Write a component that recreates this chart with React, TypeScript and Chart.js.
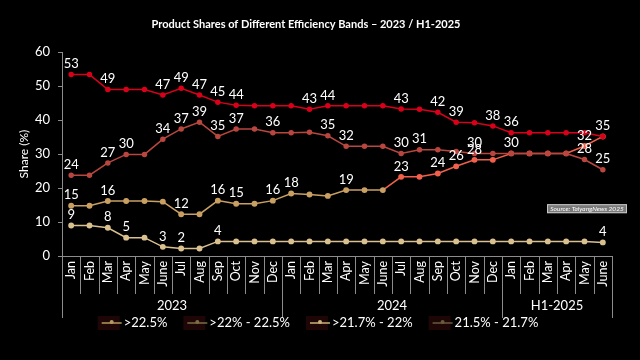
import React, { useEffect, useRef } from "react";
import { Chart, registerables } from "chart.js";

Chart.register(...registerables);

const months = ["Jan","Feb","Mar","Apr","May","June","Jul","Aug","Sep","Oct","Nov","Dec","Jan","Feb","Mar","Apr","May","June","Jul","Aug","Sep","Oct","Nov","Dec","Jan","Feb","Mar","Apr","May","June"];
const groups = [
  { label: "2023", from: 0, to: 11 },
  { label: "2024", from: 12, to: 23 },
  { label: "H1-2025", from: 24, to: 29 },
];
const seriesNames = [">22.5%", ">22% - 22.5%", ">21.7% - 22%", "21.5% - 21.7%"];

const redValues = [53.4,53.4,49,49,49,47.4,49.4,47.4,45.3,44.4,44.2,44.2,44.2,43.2,44.2,44.2,44.2,44.2,43.3,43.2,42.3,39.4,39.2,38.3,36.3,36.3,36.3,36.3,36.3,35.2];
const brownValues = [23.8,23.8,27.4,29.9,29.9,34.4,37.4,39.4,35.2,37.4,37.4,36.3,36.3,36.4,35.4,32.3,32.3,32.3,30.2,31.3,31.3,30.8,30.2,30.2,30.2,30.2,30.2,30.2,28.4,25.4];
const midValues = [14.8,14.8,16.2,16.2,16.2,16.0,12.3,12.3,16.3,15.4,15.4,16.3,18.4,18.1,17.7,19.4,19.4,19.4,23.3,23.3,24.3,26.4,28.3,28.3,30.2,30.2,30.2,30.2,32.4,35.2];
const lowValues = [9.0,9.0,8.3,5.4,5.4,2.7,2.2,2.2,4.3,4.3,4.3,4.3,4.3,4.3,4.3,4.3,4.3,4.3,4.3,4.3,4.3,4.3,4.3,4.3,4.3,4.3,4.3,4.3,4.3,4.0];

const redLabels = [0,2,5,6,7,8,9,13,14,18,20,21,23,24,29];
const brownLabels = [0,2,3,5,6,7,8,9,11,14,15,18,19,22,24,28,29];
const midLabels = [0,2,6,8,9,11,12,15,18,20,21,22,28];
const lowLabels = [0,2,3,5,6,8,29];

const yTicks = [0, 10, 20, 30, 40, 50, 60];
const salmonFrom = 18;

const FONT = "Lato, 'Open Sans', sans-serif";
const RED = "#d9001b";
const BROWN = "#b9463f";
const TAN = "#c9a062";
const SALMON = "#f2604b";
const PALE = "#d9c08e";
const legendColors = ["#b39a5e", "#7d6c47", "#cbb27a", "#6a5a3c"];
const GRAY = "#8c8c8c";

export default function App() {
  const ref = useRef<HTMLCanvasElement | null>(null);

  useEffect(() => {
    document.body.style.margin = "0";
    document.body.style.background = "#000";
    const canvas = ref.current;
    if (!canvas) return;

    const labelSets = [redLabels, brownLabels, midLabels, lowLabels];

    const extras = {
      id: "extras",
      beforeDraw(chart: any) {
        const ctx = chart.ctx;
        ctx.save();
        ctx.fillStyle = "#000";
        ctx.fillRect(0, 0, chart.width, chart.height);
        ctx.restore();
      },
      afterDatasetsDraw(chart: any) {
        const ctx = chart.ctx;
        ctx.save();
        ctx.font = `13px ${FONT}`;
        ctx.fillStyle = "#fff";
        ctx.textAlign = "center";
        ctx.textBaseline = "bottom";
        chart.data.datasets.forEach((ds: any, di: number) => {
          const meta = chart.getDatasetMeta(di);
          labelSets[di].forEach((i) => {
            const pt = meta.data[i];
            if (!pt) return;
            ctx.fillText(String(Math.round(ds.data[i])), pt.x, pt.y - 4);
          });
        });
        ctx.restore();
      },
      afterDraw(chart: any) {
        const ctx = chart.ctx;
        const xs = chart.scales.x;
        const area = chart.chartArea;
        const w = xs.getPixelForValue(1) - xs.getPixelForValue(0);
        ctx.save();
        ctx.strokeStyle = GRAY;
        ctx.lineWidth = 1;
        const bounds = new Set<number>();
        groups.forEach((g) => { bounds.add(g.from); bounds.add(g.to + 1); });
        for (let i = 0; i <= months.length; i++) {
          const x = Math.round(xs.getPixelForValue(0) - w / 2 + i * w) + 0.5;
          const len = bounds.has(i) ? 62 : 38;
          ctx.beginPath();
          ctx.moveTo(x, area.bottom);
          ctx.lineTo(x, area.bottom + len);
          ctx.stroke();
        }
        ctx.font = `13px ${FONT}`;
        ctx.fillStyle = "#fff";
        ctx.textAlign = "center";
        ctx.textBaseline = "middle";
        groups.forEach((g) => {
          const cx = (xs.getPixelForValue(g.from) + xs.getPixelForValue(g.to)) / 2;
          ctx.fillText(g.label, cx, area.bottom + 50);
        });

        // legend
        ctx.font = `13px ${FONT}`;
        const markerW = 20;
        const gapT = 2;
        const gapItem = 20;
        const widths = seriesNames.map((n) => markerW + gapT + ctx.measureText(n).width);
        const total = widths.reduce((a, b) => a + b, 0) + gapItem * (seriesNames.length - 1);
        let lx = chart.width / 2 - total / 2;
        const ly = area.bottom + 67;
        seriesNames.forEach((n, i) => {
          ctx.fillStyle = "#1e0606";
          ctx.fillRect(lx - 4, ly - 7, markerW + 2, 14);
          ctx.strokeStyle = legendColors[i];
          ctx.lineWidth = 1.5;
          ctx.beginPath();
          ctx.moveTo(lx, ly);
          ctx.lineTo(lx + markerW, ly);
          ctx.stroke();
          ctx.fillStyle = legendColors[i];
          ctx.beginPath();
          ctx.arc(lx + markerW / 2, ly - 1, 2, 0, Math.PI * 2);
          ctx.fill();
          ctx.fillStyle = "#fff";
          ctx.textAlign = "left";
          ctx.fillText(n, lx + markerW + gapT, ly);
          lx += widths[i] + gapItem;
        });

        // source box
        const bx = area.right - 65;
        const by = area.top + 152;
        ctx.fillStyle = "#7a7a7a";
        ctx.fillRect(bx, by, 80, 9);
        ctx.strokeStyle = "#c8c8c8";
        ctx.lineWidth = 1;
        ctx.strokeRect(bx + 0.5, by + 0.5, 79, 8);
        ctx.fillStyle = "#fff";
        ctx.font = `italic 6.5px ${FONT}`;
        ctx.textAlign = "center";
        ctx.fillText("Source: TaiyangNews 2025", bx + 40, by + 5);
        ctx.restore();
      },
    };

    const chart = new Chart(canvas, {
      type: "line",
      data: {
        labels: months,
        datasets: [
          {
            label: seriesNames[3],
            data: redValues,
            borderColor: RED,
            backgroundColor: RED,
            pointBackgroundColor: RED,
            pointBorderColor: RED,
            borderWidth: 1.5,
            pointRadius: 2,
          },
          {
            label: seriesNames[2],
            data: brownValues,
            borderColor: BROWN,
            backgroundColor: BROWN,
            pointBackgroundColor: BROWN,
            pointBorderColor: BROWN,
            borderWidth: 1.5,
            pointRadius: 2,
          },
          {
            label: seriesNames[0],
            data: midValues,
            borderColor: TAN,
            backgroundColor: TAN,
            pointBackgroundColor: midValues.map((_, i) => (i >= salmonFrom ? SALMON : TAN)),
            pointBorderColor: midValues.map((_, i) => (i >= salmonFrom ? SALMON : TAN)),
            borderWidth: 1.5,
            pointRadius: 2.2,
            segment: {
              borderColor: (c: any) => (c.p1DataIndex >= salmonFrom ? SALMON : TAN),
            },
          },
          {
            label: seriesNames[1],
            data: lowValues,
            borderColor: PALE,
            backgroundColor: PALE,
            pointBackgroundColor: PALE,
            pointBorderColor: PALE,
            borderWidth: 1.5,
            pointRadius: 2.2,
          },
        ],
      },
      options: {
        responsive: false,
        animation: false,
        layout: { padding: { left: 0, right: 28, top: 0, bottom: 54 } },
        plugins: {
          legend: { display: false },
          tooltip: { enabled: false },
          title: {
            display: true,
            text: "Product Shares of Different Efficiency Bands – 2023 / H1-2025",
            color: "#fff",
            font: { family: FONT, size: 11, weight: "bold", lineHeight: 1.2 },
            padding: { top: 18, bottom: 21 },
          },
        },
        scales: {
          x: {
            type: "category",
            offset: true,
            grid: { display: false, drawOnChartArea: false, drawTicks: false },
            border: { display: true, color: GRAY },
            ticks: {
              color: "#fff",
              font: { family: FONT, size: 12.5 },
              minRotation: 90,
              maxRotation: 90,
              autoSkip: false,
              padding: 5,
            },
            afterFit(scale: any) {
              scale.height = 50;
            },
          },
          y: {
            min: 0,
            max: 60,
            afterBuildTicks(scale: any) {
              scale.ticks = yTicks.map((v) => ({ value: v }));
            },
            grid: { drawOnChartArea: false, drawTicks: true, tickLength: 4, color: GRAY },
            border: { display: true, color: GRAY },
            ticks: { color: "#fff", font: { family: FONT, size: 13 }, padding: 8 },
            title: {
              display: true,
              text: "Share (%)",
              color: "#fff",
              font: { family: FONT, size: 12 },
              padding: { top: 17, bottom: 0 },
            },
            afterFit(scale: any) {
              scale.width = 62;
            },
          },
        },
      },
      plugins: [extras],
    } as any);

    return () => chart.destroy();
  }, []);

  return (
    <div style={{ width: 640, height: 360, background: "#000" }}>
      <canvas ref={ref} width={640} height={360} style={{ display: "block" }} />
    </div>
  );
}
